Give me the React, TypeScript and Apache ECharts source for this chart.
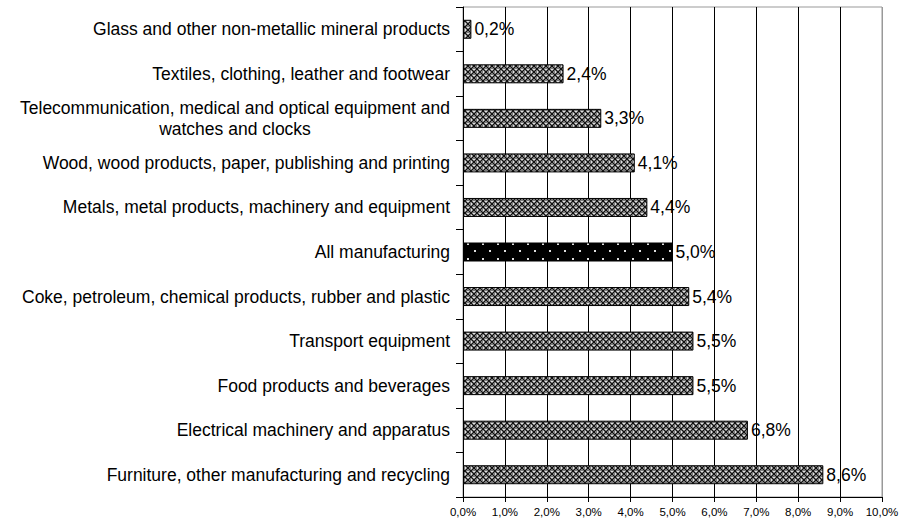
import React, { useEffect, useRef } from "react";
import * as echarts from "echarts";

const categories = [
  "Glass and other non-metallic mineral products",
  "Textiles, clothing, leather and footwear",
  "Telecommunication, medical and optical equipment and\nwatches and clocks",
  "Wood, wood products, paper, publishing and printing",
  "Metals, metal products, machinery and equipment",
  "All manufacturing",
  "Coke, petroleum, chemical products, rubber and plastic",
  "Transport equipment",
  "Food products and beverages",
  "Electrical machinery and apparatus",
  "Furniture, other manufacturing and recycling",
];
const values = [0.2, 2.4, 3.3, 4.1, 4.4, 5.0, 5.4, 5.5, 5.5, 6.8, 8.6];
const highlight = "All manufacturing";

function hatchCanvas() {
  const c = document.createElement("canvas");
  c.width = 6;
  c.height = 6;
  const g = c.getContext("2d")!;
  g.fillStyle = "#7a7a7a";
  g.fillRect(0, 0, 6, 6);
  g.fillStyle = "#111";
  for (let i = 0; i < 6; i++) {
    g.fillRect(i, i, 1, 1);
    g.fillRect(5 - i, i, 1, 1);
  }
  g.fillStyle = "#e0e0e0";
  g.fillRect(3, 0, 1, 1);
  g.fillRect(0, 3, 1, 1);
  g.fillRect(3, 5, 1, 1);
  g.fillRect(5, 3, 1, 1);
  return c;
}

function dotCanvas() {
  const c = document.createElement("canvas");
  c.width = 15;
  c.height = 15;
  const g = c.getContext("2d")!;
  g.fillStyle = "#000";
  g.fillRect(0, 0, 15, 15);
  g.fillStyle = "#ddd";
  g.fillRect(2, 3, 2, 2);
  g.fillRect(9, 10, 2, 2);
  return c;
}

const fmt = (v: number) => v.toFixed(1).replace(".", ",") + "%";

export default function App() {
  const ref = useRef<HTMLDivElement>(null);
  useEffect(() => {
    if (!ref.current) return;
    const chart = echarts.init(ref.current, undefined, { renderer: "svg" });
    const hatch = { image: hatchCanvas(), repeat: "repeat" };
    const dots = { image: dotCanvas(), repeat: "repeat" };
    const font = "Liberation Sans, Arial, sans-serif";
    const gridColors = ["#000", "#000", "#000", "#000", "#000", "#000", "#000", "#000", "#000", "#000", "#999"];
    chart.setOption({
      animation: false,
      backgroundColor: "#fff",
      grid: {
        left: 463,
        right: 33,
        top: 7,
        bottom: 25,
        show: true,
        borderColor: "#999",
        borderWidth: 1,
      },
      xAxis: {
        type: "value",
        min: 0,
        max: 10,
        interval: 1,
        axisLine: { show: true, lineStyle: { color: "#000" } },
        axisTick: { show: true, length: 5, lineStyle: { color: "#000" } },
        axisLabel: {
          formatter: (v: number) => fmt(v),
          fontSize: 11.5,
          color: "#000",
          fontFamily: font,
          margin: 9,
        },
        splitLine: { show: true, lineStyle: { color: gridColors, width: 1 } },
      },
      yAxis: {
        type: "category",
        inverse: true,
        data: categories.map((c) =>
          c.includes("\n")
            ? { value: c, textStyle: { align: "center", padding: [0, 430, 0, 0], lineHeight: 21 } }
            : c
        ),
        axisLine: { show: true, lineStyle: { color: "#000" } },
        axisTick: { show: true, length: 7, lineStyle: { color: "#000" } },
        axisLabel: {
          fontSize: 17.5,
          color: "#000",
          fontFamily: font,
          margin: 13,
        },
      },
      series: [
        {
          type: "bar",
          data: values.map((v, i) => ({
            value: v,
            itemStyle: { color: categories[i] === highlight ? dots : hatch },
          })),
          barWidth: 19,
          itemStyle: { borderColor: "#000", borderWidth: 1 },
          label: {
            show: true,
            position: "right",
            distance: 3,
            formatter: (p: any) => fmt(p.value),
            fontSize: 17.5,
            color: "#000",
            fontFamily: font,
          },
        },
      ],
    });
    return () => chart.dispose();
  }, []);
  return <div ref={ref} style={{ width: 915, height: 522, position: "absolute", left: 0, top: 0 }} />;
}
